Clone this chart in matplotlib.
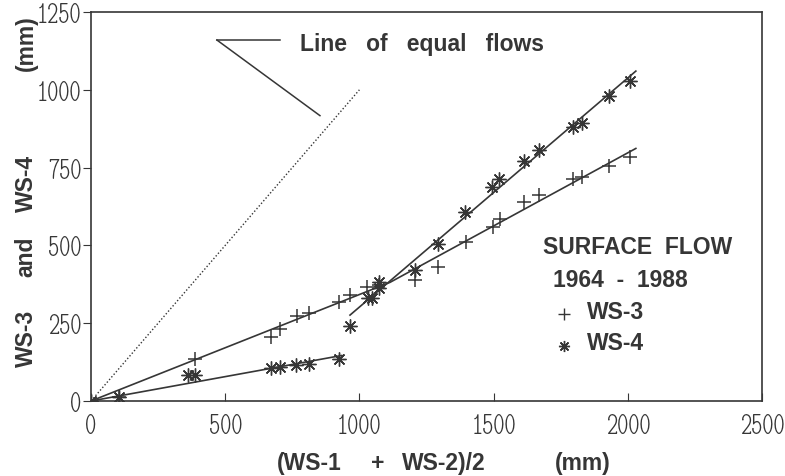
import matplotlib
matplotlib.use("Agg")
import matplotlib.pyplot as plt
from matplotlib import font_manager
import numpy as np

# WS-3 (+) readings
ws3_x = [0, 104, 387, 671, 704, 768, 812, 924, 965, 1030, 1073, 1207, 1293,
         1397, 1498, 1524, 1613, 1669, 1796, 1829, 1930, 2008]
ws3_y = [0, 13, 135, 206, 231, 273, 283, 318, 341, 366, 372, 389, 431,
         511, 559, 585, 639, 662, 713, 720, 755, 784]

# WS-4 (*) readings
ws4_x = [0, 104, 361, 387, 671, 704, 764, 812, 924, 965, 1032, 1047, 1073, 1073,
         1207, 1293, 1393, 1494, 1520, 1613, 1669, 1796, 1829, 1930, 2008]
ws4_y = [0, 13, 84, 84, 106, 109, 116, 119, 135, 241, 331, 331, 363, 382,
         421, 504, 607, 688, 713, 771, 807, 880, 893, 980, 1028]

xticks = [0, 500, 1000, 1500, 2000, 2500]
yticks = [0, 250, 500, 750, 1000, 1250]

names = {f.name for f in font_manager.fontManager.ttflist}
bold_font = "Liberation Sans" if "Liberation Sans" in names else "DejaVu Sans"

# a narrow face for the tick numbers, if one is around
narrow = None
for f in font_manager.fontManager.ttflist:
    if ("Narrow" in f.name or "Condensed" in f.name or f.stretch == "condensed") \
            and f.weight in (400, "normal", "regular") and f.style == "normal":
        narrow = f.fname
        if "Liberation" in f.name:
            break

ink = "#363636"
W, H = 785, 477

fig = plt.figure(figsize=(7.85, 4.77), dpi=100)
ax = fig.add_axes([91 / W, 1 - 402 / H, (762 - 91) / W, (402 - 13) / H])

ws3_x = np.array(ws3_x, float)
ws3_y = np.array(ws3_y, float)
ws4_x = np.array(ws4_x, float)
ws4_y = np.array(ws4_y, float)


def two_piece(x, y, split):
    # lower piece through the origin, upper piece a free straight line
    lo = x < split
    k = np.sum(x[lo] * y[lo]) / np.sum(x[lo] ** 2)
    m, c = np.polyfit(x[~lo], y[~lo], 1)
    return k, m, c


# WS-3: two straight pieces that meet
k3, m3, c3 = two_piece(ws3_x, ws3_y, 1000)
xm = c3 / (k3 - m3)
ax.plot([0, xm, 2030], [0, k3 * xm, m3 * 2030 + c3], color=ink, lw=1.2)

# WS-4: two separate straight pieces
lo = ws4_x < 950
k4, m4, c4 = two_piece(ws4_x, ws4_y, 950)
xa = np.array([0, ws4_x[lo].max() + 10])
ax.plot(xa, k4 * xa, color=ink, lw=1.2)
xb = np.array([ws4_x[~lo].min(), 2030])
ax.plot(xb, m4 * xb + c4, color=ink, lw=1.2)

# line of equal flows
ax.plot([0, 1000], [0, 1000], color=ink, lw=1.0, ls=(0, (1, 1.5)))

ax.plot(ws3_x, ws3_y, ls="none", marker="+", ms=10, mew=1.1, color=ink)
ax.plot(ws4_x, ws4_y, ls="none", marker=(8, 2, 0), ms=10, mew=1.0, color=ink)

bold = dict(fontsize=16.5, fontweight="bold", family=bold_font, color=ink)

# annotation
ax.plot([469, 704], [1160, 1160], color=ink, lw=1.1)
ax.plot([469, 853], [1160, 917], color=ink, lw=1.1)
ax.text(779, 1150, "Line   of   equal   flows", va="center", ha="left", **bold)

# legend block
ax.text(1685, 495, "SURFACE  FLOW", va="center", **bold)
ax.text(1723, 392, "1964  -  1988", va="center", **bold)
ax.plot([1762], [278], ls="none", marker="+", ms=8, mew=1.0, color=ink)
ax.text(1848, 286, "WS-3", va="center", **bold)
ax.plot([1762], [176], ls="none", marker=(8, 2, 0), ms=8, mew=1.0, color=ink)
ax.text(1848, 189, "WS-4", va="center", **bold)

ax.set_xlim(0, 2500)
ax.set_ylim(0, 1250)
ax.tick_params(axis="x", direction="in", length=6, color=ink, pad=9)
ax.tick_params(axis="y", direction="out", length=6, color=ink, pad=1)
if narrow:
    tick_prop = font_manager.FontProperties(fname=narrow, size=23)
else:
    tick_prop = font_manager.FontProperties(family=bold_font, size=15)
ax.set_xticks(xticks)
ax.set_xticklabels([str(t) for t in xticks], fontproperties=tick_prop, color=ink)
ax.set_yticks(yticks)
ax.set_yticklabels([str(t) for t in yticks], fontproperties=tick_prop, color=ink)
for s in ax.spines.values():
    s.set_color(ink)
    s.set_linewidth(1.2)

# axis titles, word by word as spaced in the original
for txt, x in [("(WS-1", 277), ("+", 371), ("WS-2)/2", 402), ("(mm)", 555)]:
    fig.text(x / W, 1 - 464 / H, txt, ha="left", va="center", **bold)
for txt, y in [("(mm)", 43), ("WS-4", 183), ("and", 257), ("WS-3", 338)]:
    fig.text(26 / W, 1 - y / H, txt, ha="center", va="center", rotation=90, **bold)

fig.savefig("out.png", dpi=100)
